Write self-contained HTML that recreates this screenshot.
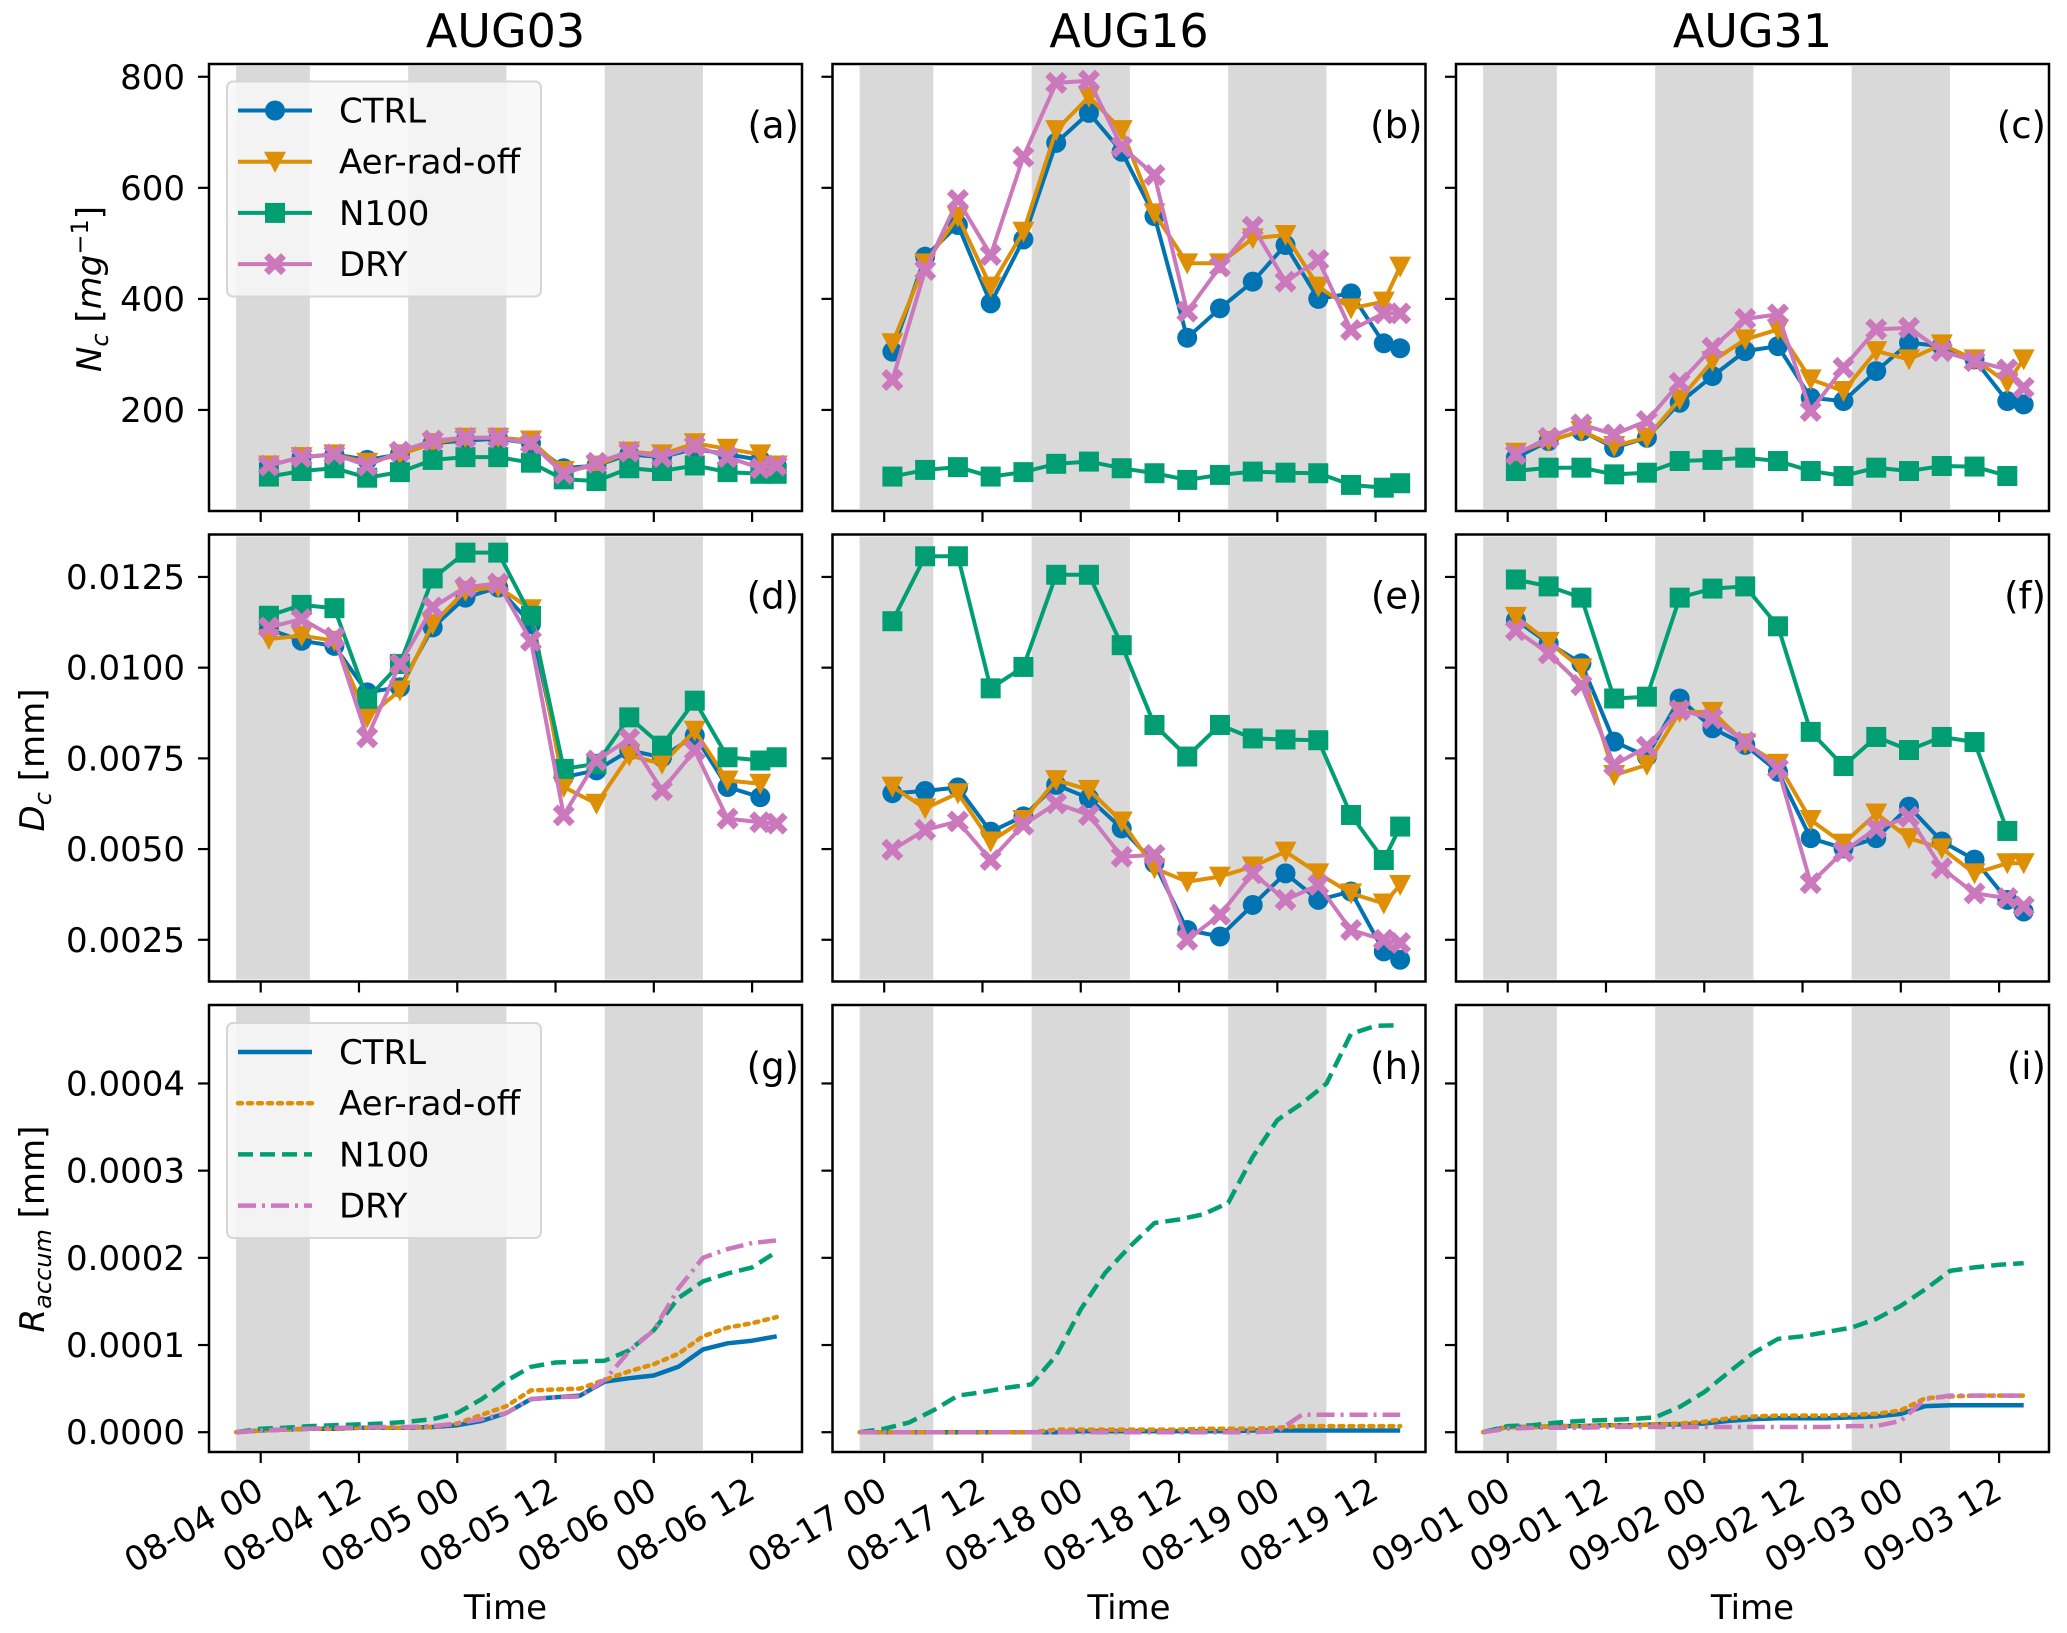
<!DOCTYPE html>
<html><head><meta charset="utf-8"><style>
html,body{margin:0;padding:0;background:#fff;}
svg{display:block;font-family:"DejaVu Sans","Liberation Sans",sans-serif;}
</style></head><body>
<svg id="fig" width="2067" height="1633" viewBox="0 0 2067 1633" xmlns="http://www.w3.org/2000/svg"></svg>
<script>
// ---------- data ----------
const seriesNames = ["CTRL","Aer-rad-off","N100","DRY"];
const columnTitles = ["AUG03","AUG16","AUG31"];
const xTickLabels = [
  ["08-04 00","08-04 12","08-05 00","08-05 12","08-06 00","08-06 12"],
  ["08-17 00","08-17 12","08-18 00","08-18 12","08-19 00","08-19 12"],
  ["09-01 00","09-01 12","09-02 00","09-02 12","09-03 00","09-03 12"]];
const xTickHours = [0,12,24,36,48,60];
const nightBands = [[-3,6],[18,30],[42,54]];
const markerHours = [1,5,9,13,17,21,25,29,33,37,41,45,49,53,57,61,63];
const rainHours = [-3,0,3,6,9,12,15,18,21,24,27,30,33,36,39,42,45,48,51,54,57,60,63];
const ncTicks = [200,400,600,800];
const dcTicks = [0.0025,0.0050,0.0075,0.0100,0.0125];
const dcTickLabels = ["0.0025","0.0050","0.0075","0.0100","0.0125"];
const rTicks = [0,0.0001,0.0002,0.0003,0.0004];
const rTickLabels = ["0.0000","0.0001","0.0002","0.0003","0.0004"];

// Nc (panels a,b,c)
const ncA_ctrl = [100,115,120,110,120,140,145,148,140,95,100,120,115,130,120,110,100];
const ncA_aer  = [100,115,120,105,120,140,150,150,145,90,100,125,120,140,130,120,100];
const ncA_n100 = [80,90,95,78,88,110,115,115,105,75,72,95,90,100,88,85,85];
const ncA_dry  = [100,115,120,100,125,145,150,150,140,85,105,125,115,135,115,95,100];
const ncB_ctrl = [305,476,533,392,507,681,735,665,549,330,383,431,497,400,410,320,311];
const ncB_aer  = [320,464,548,422,521,704,764,704,554,464,464,509,515,422,383,395,458];
const ncB_n100 = [80,92,97,80,88,103,107,95,86,74,83,89,87,86,65,60,68];
const ncB_dry  = [254,452,578,479,656,789,793,674,623,377,458,530,431,470,344,374,374];
const ncC_ctrl = [114,144,162,132,150,213,261,306,315,222,216,270,321,315,291,216,210];
const ncC_aer  = [123,144,162,135,150,219,288,327,345,255,234,306,291,318,291,249,291];
const ncC_n100 = [90,96,96,84,87,108,110,114,108,90,81,96,90,99,98,81,null];
const ncC_dry  = [120,150,174,156,180,249,312,364,372,198,276,345,348,306,288,273,240];
// Dc (panels d,e,f)
const dcD_ctrl = [0.01106,0.01074,0.0106,0.00932,0.00946,0.01111,0.01193,0.01221,0.0112,0.00698,0.00717,0.00772,0.00753,0.00813,0.00671,0.00643,null];
const dcD_aer  = [0.01079,0.01088,0.01074,0.00863,0.00937,0.0112,0.01212,0.01222,0.01161,0.00671,0.00625,0.00758,0.00735,0.00826,0.00689,0.0068,null];
const dcD_n100 = [0.01143,0.01173,0.01164,0.00914,0.0101,0.01246,0.01317,0.01317,0.01143,0.00721,0.00735,0.00863,0.00785,0.00909,0.00753,0.00744,0.00753];
const dcD_dry  = [0.01111,0.01134,0.01083,0.00808,0.0101,0.01166,0.01222,0.01232,0.01074,0.00593,0.00744,0.00804,0.00662,0.00772,0.00584,0.00574,0.0057];
const dcE_ctrl = [0.00654,0.0066,0.0067,0.00548,0.0059,0.00677,0.0064,0.00557,0.00461,0.00277,0.00259,0.00346,0.00433,0.0036,0.00383,0.00218,0.00195];
const dcE_aer  = [0.00672,0.00612,0.00654,0.00521,0.0058,0.0069,0.00663,0.00576,0.00447,0.0041,0.00424,0.00452,0.00493,0.00433,0.00378,0.0035,0.00401];
const dcE_n100 = [0.01128,0.01307,0.01307,0.00943,0.01002,0.01256,0.01256,0.01062,0.00842,0.00755,0.00842,0.00805,0.00802,0.0080,0.00594,0.0047,0.00562];
const dcE_dry  = [0.00498,0.00553,0.00576,0.0047,0.00567,0.00626,0.00594,0.00479,0.00484,0.0025,0.00319,0.00433,0.0036,0.00401,0.00277,0.0025,0.00241];
const dcF_ctrl = [0.01131,0.01067,0.01012,0.00796,0.00755,0.00915,0.00833,0.00787,0.00713,0.0053,0.00502,0.0053,0.00617,0.00521,0.00471,0.0036,0.00328];
const dcF_aer  = [0.0114,0.01071,0.00998,0.00704,0.00732,0.00878,0.00878,0.00791,0.00735,0.0058,0.00515,0.00598,0.0053,0.00502,0.00433,0.00461,0.00461];
const dcF_n100 = [0.01243,0.01224,0.01193,0.00915,0.0092,0.01193,0.01218,0.01224,0.01114,0.00823,0.00729,0.00809,0.00773,0.00809,0.00795,0.0055,null];
const dcF_dry  = [0.01103,0.01039,0.00952,0.00732,0.00782,0.00883,0.0086,0.00795,0.00722,0.00406,0.00493,0.00557,0.00589,0.00447,0.00378,0.00365,0.00342];
// Raccum (units of 1e-4 mm) (panels g,h,i)
const rG_ctrl = [0,0.02,0.03,0.04,0.04,0.05,0.05,0.05,0.06,0.08,0.13,0.22,0.38,0.40,0.42,0.58,0.62,0.65,0.75,0.95,1.02,1.05,1.1];
const rG_aer  = [0,0.02,0.03,0.04,0.04,0.05,0.05,0.05,0.06,0.10,0.20,0.30,0.48,0.49,0.50,0.60,0.70,0.78,0.90,1.10,1.20,1.25,1.32];
const rG_n100 = [0,0.04,0.05,0.07,0.08,0.09,0.10,0.12,0.15,0.22,0.38,0.59,0.75,0.80,0.81,0.82,0.94,1.17,1.54,1.73,1.82,1.89,2.07];
const rG_dry  = [0,0.02,0.03,0.04,0.05,0.05,0.06,0.06,0.07,0.10,0.15,0.22,0.38,0.40,0.41,0.60,0.93,1.17,1.65,2.0,2.1,2.17,2.2];
const rH_ctrl = [0,0,0,0,0,0,0,0,0,0.01,0.01,0.01,0.01,0.01,0.01,0.01,0.02,0.02,0.02,0.02,0.02,0.02,0.02];
const rH_aer  = [0,0,0,0,0,0,0,0,0.03,0.03,0.03,0.03,0.03,0.03,0.04,0.04,0.04,0.05,0.07,0.07,0.07,0.07,0.07];
const rH_n100 = [0,0.04,0.11,0.25,0.42,0.46,0.51,0.55,0.88,1.41,1.83,2.13,2.40,2.44,2.50,2.63,3.16,3.58,3.77,4.0,4.57,4.66,4.67];
const rH_dry  = [0,0,0,0,0,0,0,0,0,0,0,0,0,0,0,0,0,0.01,0.2,0.2,0.2,0.2,0.2];
const rI_ctrl = [0,0.06,0.06,0.07,0.07,0.08,0.08,0.09,0.09,0.1,0.13,0.15,0.16,0.16,0.16,0.17,0.18,0.21,0.30,0.31,0.31,0.31,0.31];
const rI_aer  = [0,0.06,0.06,0.07,0.07,0.08,0.08,0.09,0.10,0.12,0.16,0.18,0.19,0.19,0.19,0.20,0.21,0.25,0.39,0.41,0.42,0.42,0.42];
const rI_n100 = [0,0.07,0.08,0.11,0.13,0.14,0.15,0.17,0.29,0.46,0.69,0.91,1.07,1.10,1.15,1.20,1.30,1.45,1.64,1.85,1.89,1.92,1.94];
const rI_dry  = [0,0.04,0.05,0.05,0.05,0.06,0.06,0.06,0.06,0.06,0.06,0.06,0.06,0.06,0.06,0.07,0.07,0.13,0.38,0.42,0.42,0.42,0.42];

// ---------- layout ----------
const NS="http://www.w3.org/2000/svg";
const svg=document.getElementById('fig');
const colors=["#0173b2","#de8f05","#029e73","#cc78bc"];
const colLeft=[209,832.5,1456], axW=593;
const rowTop=[64,534.5,1005], axH=447;
const rowDomains=[[18,823],[0.00135,0.01367],[-0.0000227,0.00049]];
function mk(tag,attrs,parent){const e=document.createElementNS(NS,tag);for(const k in attrs)e.setAttribute(k,attrs[k]);(parent||svg).appendChild(e);return e;}
function xScale(c,h){return colLeft[c]+51.7+h*8.19;}
function yScale(r,v){const d=rowDomains[r];return rowTop[r]+axH-(v-d[0])/(d[1]-d[0])*axH;}

// titles
columnTitles.forEach((t,c)=>{
  const e=mk('text',{x:colLeft[c]+axW/2,y:47,'text-anchor':'middle','font-size':46,fill:'#000'});
  e.textContent=t;
  
  
});

const ncData=[[ncA_ctrl,ncA_aer,ncA_n100,ncA_dry],[ncB_ctrl,ncB_aer,ncB_n100,ncB_dry],[ncC_ctrl,ncC_aer,ncC_n100,ncC_dry]];
const dcData=[[dcD_ctrl,dcD_aer,dcD_n100,dcD_dry],[dcE_ctrl,dcE_aer,dcE_n100,dcE_dry],[dcF_ctrl,dcF_aer,dcF_n100,dcF_dry]];
const rData=[[rG_ctrl,rG_aer,rG_n100,rG_dry],[rH_ctrl,rH_aer,rH_n100,rH_dry],[rI_ctrl,rI_aer,rI_n100,rI_dry]];
const letters=[["a","b","c"],["d","e","f"],["g","h","i"]];
const dashes=["", "4,6", "15,7", "18,6,3,6"];
const caps=["butt","round","butt","butt"];

function marker(g,s,x,y){
  let e;
  if(s===0) e=mk('circle',{cx:x,cy:y,r:10,fill:colors[0]},g);
  else if(s===1) e=mk('path',{d:`M${x-11},${y-10}L${x+11},${y-10}L${x},${y+11}Z`,fill:colors[1]},g);
  else if(s===2) e=mk('rect',{x:x-10,y:y-10,width:20,height:20,fill:colors[2]},g);
  else {const a=5,b=11; e=mk('path',{d:`M${x-b+a},${y-b}L${x},${y-a}L${x+b-a},${y-b}L${x+b},${y-b+a}L${x+a},${y}L${x+b},${y+b-a}L${x+b-a},${y+b}L${x},${y+a}L${x-b+a},${y+b}L${x-b},${y+b-a}L${x-a},${y}L${x-b},${y-b+a}Z`,fill:colors[3]},g);}
  
  
}

for(let r=0;r<3;r++){for(let c=0;c<3;c++){
  const g=mk('g',{});
  
  
  const L=colLeft[c],T=rowTop[r];
  const clipId='clip'+r+c;
  const cp=mk('clipPath',{id:clipId},g);mk('rect',{x:L,y:T,width:axW,height:axH},cp);
  nightBands.forEach(b=>{
    const e=mk('rect',{x:xScale(c,b[0]),y:T+2,width:xScale(c,b[1])-xScale(c,b[0]),height:axH-4,fill:'#d9d9d9'},g);
    
    
  });
  const plot=mk('g',{'clip-path':`url(#${clipId})`},g);
  for(let s=0;s<4;s++){
    if(r<2){
      const vals=(r===0?ncData:dcData)[c][s];
      let d='';vals.forEach((v,i)=>{if(v===null)return;d+=(d?'L':'M')+xScale(c,markerHours[i]).toFixed(1)+','+yScale(r,v).toFixed(1);});
      const ln=mk('path',{d:d,fill:'none',stroke:colors[s],'stroke-width':4,'stroke-linejoin':'round'},plot);
      
      
      vals.forEach((v,i)=>{if(v===null)return;marker(plot,s,xScale(c,markerHours[i]),yScale(r,v));});
    } else {
      const vals=rData[c][s];
      let d='';vals.forEach((v,i)=>{d+=(i?'L':'M')+xScale(c,rainHours[i]).toFixed(1)+','+yScale(r,v*1e-4).toFixed(1);});
      const a={d:d,fill:'none',stroke:colors[s],'stroke-width':4.5,'stroke-linejoin':'round','stroke-linecap':caps[s]};
      if(dashes[s])a['stroke-dasharray']=dashes[s];
      const ln=mk('path',a,plot);
      
      
    }
  }
  const fr=mk('rect',{x:L,y:T,width:axW,height:axH,fill:'none',stroke:'#000','stroke-width':2.5},g);
  
  
  // x ticks
  xTickHours.forEach((h,i)=>{
    const x=xScale(c,h);
    mk('line',{x1:x,y1:T+axH,x2:x,y2:T+axH+11,stroke:'#000','stroke-width':2.2},g);
    if(r===2){
      const t=mk('text',{x:x+5,y:T+axH+45,'text-anchor':'end','font-size':34,transform:`rotate(-30 ${x+5} ${T+axH+45})`},g);
      t.textContent=xTickLabels[c][i];
      
      
    }
  });
  // y ticks
  const tv=r===0?ncTicks:(r===1?dcTicks:rTicks);
  const tl=r===0?ncTicks.map(String):(r===1?dcTickLabels:rTickLabels);
  tv.forEach((v,i)=>{
    const y=yScale(r,v);
    mk('line',{x1:L-11,y1:y,x2:L,y2:y,stroke:'#000','stroke-width':2.2},g);
    if(c===0){
      const t=mk('text',{x:L-24,y:y+12,'text-anchor':'end','font-size':34},g);
      t.textContent=tl[i];
      
      
    }
  });
  const pl=mk('text',{x:L+590,y:T+74,'text-anchor':'end','font-size':37},g);
  pl.textContent='('+letters[r][c]+')';
  
  
}}

// legends
function legend(top,withMarkers,name){
  const g=mk('g',{});
  
  
  mk('rect',{x:227,y:top,width:314,height:215,rx:6,fill:'#f7f7f7','fill-opacity':0.85,stroke:'#d6d6d6','stroke-width':2},g);
  seriesNames.forEach((n,s)=>{
    const y=top+29+s*51.2;
    const a={x1:238,y1:y,x2:312,y2:y,stroke:colors[s],'stroke-width':withMarkers?4:4.5,'stroke-linecap':withMarkers?'butt':caps[s]};
    if(!withMarkers&&dashes[s])a['stroke-dasharray']=dashes[s];
    mk('line',a,g);
    if(withMarkers)marker(g,s,275,y);
    const t=mk('text',{x:339,y:y+12,'font-size':34},g);
    t.textContent=n;
    
    
  });
}
legend(81.5,true,'legend-top');
legend(1023,false,'legend-bottom');

// axis labels
function ylab(x,y,html,name){
  const t=mk('text',{x:x,y:y,'text-anchor':'middle','font-size':34,transform:`rotate(-90 ${x} ${y})`});
  t.innerHTML=html;
  
  
}
ylab(101,289,'<tspan font-style="italic">N</tspan><tspan font-style="italic" font-size="24" dy="7">c</tspan><tspan dy="-7"> [</tspan><tspan font-style="italic">mg</tspan><tspan font-size="24" dy="-13">−1</tspan><tspan dy="13">]</tspan>','y-axis-title-nc');
ylab(44,760,'<tspan font-style="italic">D</tspan><tspan font-style="italic" font-size="24" dy="7">c</tspan><tspan dy="-7"> [mm]</tspan>','y-axis-title-dc');
ylab(44,1229,'<tspan font-style="italic">R</tspan><tspan font-style="italic" font-size="24" dy="7">accum</tspan><tspan dy="-7"> [mm]</tspan>','y-axis-title-raccum');
[0,1,2].forEach(c=>{
  const t=mk('text',{x:colLeft[c]+axW/2,y:1619,'text-anchor':'middle','font-size':34});
  t.textContent='Time';
  
  
});
</script>
</body></html>
